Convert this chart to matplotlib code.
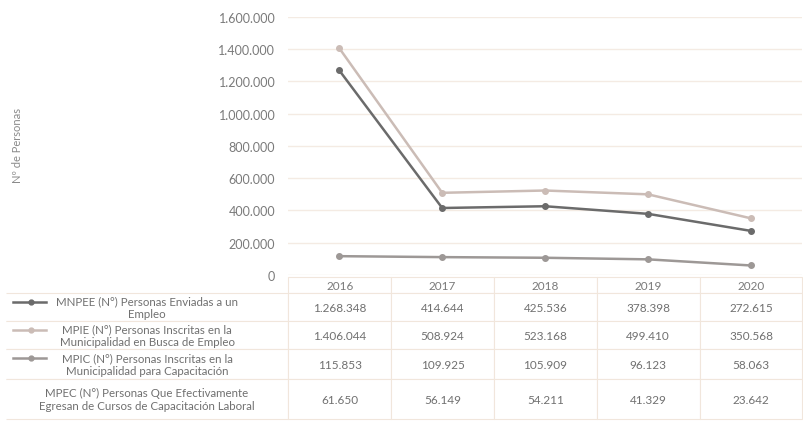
import matplotlib.pyplot as plt
from matplotlib.lines import Line2D
from matplotlib.ticker import FuncFormatter

years = ['2016', '2017', '2018', '2019', '2020']
mnpee = [1268348, 414644, 425536, 378398, 272615]
mpie = [1406044, 508924, 523168, 499410, 350568]
mpic = [115853, 109925, 105909, 96123, 58063]
mpec = [61650, 56149, 54211, 41329, 23642]

row_names = [
    'MNPEE (N°) Personas Enviadas a un\nEmpleo',
    'MPIE (N°) Personas Inscritas en la\nMunicipalidad en Busca de Empleo',
    'MPIC (N°) Personas Inscritas en la\nMunicipalidad para Capacitación',
    'MPEC (N°) Personas Que Efectivamente\nEgresan de Cursos de Capacitación Laboral',
]
series = [mnpee, mpie, mpic, mpec]
line_colors = ['#6b6b6b', '#cbbcb6', '#9d9896', None]

plt.rcParams['font.family'] = ['Lato', 'DejaVu Sans']


def fmt(v):
    return f'{int(v):,}'.replace(',', '.')


fig = plt.figure(figsize=(8.04, 4.27), dpi=100)
ax = fig.add_axes([0.358, 0.354, 0.640, 0.604])

x = list(range(len(years)))
for vals, c in zip(series, line_colors):
    if c is None:
        continue
    ax.plot(x, vals, color=c, lw=1.8, marker='o', ms=4, zorder=3)

ax.set_xlim(-0.5, len(years) - 0.5)
ax.set_ylim(0, 1600000)
ax.set_yticks(range(0, 1600001, 200000))
ax.yaxis.set_major_formatter(FuncFormatter(lambda v, p: fmt(v)))
ax.set_xticks([])
ax.tick_params(axis='y', length=0, labelsize=9, labelcolor='#7a7a7a', pad=9)
for s in ax.spines.values():
    s.set_visible(False)
ax.grid(axis='y', color='#f4ebe3', lw=1)
ax.set_axisbelow(True)

fig.text(0.022, 0.66, 'Nº de Personas', rotation=90, ha='center', va='center',
         fontsize=8, color='#8a8a8a')

# data table under the plot
cell_text = [[name] + [fmt(v) for v in vals] for name, vals in zip(row_names, series)]
first_w = 283
col_w = 103
total_w = first_w + col_w * len(years)
widths = [first_w / total_w] + [col_w / total_w] * len(years)
tbl = ax.table(cellText=cell_text, colLabels=[''] + years, colWidths=widths,
               cellLoc='center', bbox=[-0.548, -0.56, 1.548, 0.55])
tbl.auto_set_font_size(False)
heights = [16, 28, 28, 30, 40]
hsum = sum(heights)
for (r, c), cell in tbl.get_celld().items():
    cell.set_edgecolor('#f1e6dc')
    cell.set_linewidth(0.8)
    cell.set_height(0.55 * heights[r] / hsum)
    t = cell.get_text()
    t.set_color('#707070')
    t.set_fontsize(8.3 if c == 0 else 8.5)
    if c == 0:
        cell.visible_edges = 'TBR'
    if r == 0:
        t.set_color('#7a7a7a')
        t.set_fontsize(8.5)
        if c == 0:
            cell.visible_edges = ''

# legend keys in the first column
ytop = -0.01 - 0.55 * heights[0] / hsum
for i, c in enumerate(line_colors):
    h = 0.55 * heights[i + 1] / hsum
    yc = ytop - h * 0.3
    ytop -= h
    if c is None:
        continue
    ax.add_line(Line2D([-0.535, -0.47], [yc, yc], color=c, lw=1.8,
                       transform=ax.transAxes, clip_on=False))
    ax.add_line(Line2D([-0.5], [yc], color=c, marker='o', ms=3.5,
                       transform=ax.transAxes, clip_on=False))

fig.savefig('out.png', dpi=100)
